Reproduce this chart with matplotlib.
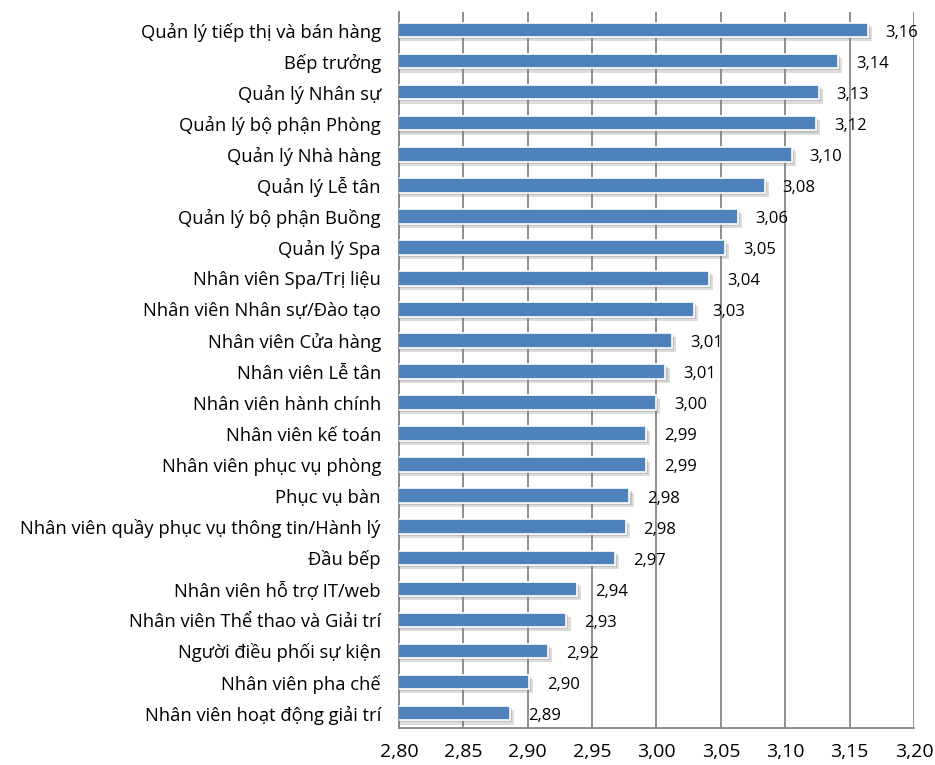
import matplotlib
matplotlib.use('Agg')
import matplotlib.pyplot as plt
import matplotlib.patheffects as pe
import numpy as np

plt.rcParams['font.family'] = ['Open Sans', 'DejaVu Sans']

categories = ['Quản lý tiếp thị và bán hàng', 'Bếp trưởng', 'Quản lý Nhân sự',
              'Quản lý bộ phận Phòng', 'Quản lý Nhà hàng', 'Quản lý Lễ tân',
              'Quản lý bộ phận Buồng', 'Quản lý Spa', 'Nhân viên Spa/Trị liệu',
              'Nhân viên Nhân sự/Đào tạo', 'Nhân viên Cửa hàng', 'Nhân viên Lễ tân',
              'Nhân viên hành chính', 'Nhân viên kế toán', 'Nhân viên phục vụ phòng',
              'Phục vụ bàn', 'Nhân viên quầy phục vụ thông tin/Hành lý', 'Đầu bếp',
              'Nhân viên hỗ trợ IT/web', 'Nhân viên Thể thao và Giải trí',
              'Người điều phối sự kiện', 'Nhân viên pha chế', 'Nhân viên hoạt động giải trí']
values = [3.164, 3.141, 3.126, 3.124, 3.105, 3.084, 3.063, 3.053, 3.041, 3.029,
          3.012, 3.007, 2.9996, 2.992, 2.992, 2.979, 2.976, 2.968, 2.938, 2.930,
          2.916, 2.901, 2.886]
xticks = [2.80, 2.85, 2.90, 2.95, 3.00, 3.05, 3.10, 3.15, 3.20]

fig = plt.figure(figsize=(9.35, 7.65), dpi=100)
ax = fig.add_axes([0.4267, 0.0484, 0.5508, 0.9359])

y = np.arange(len(categories))
bars = ax.barh(y, values, left=0, height=0.47, color='#4f81bd', edgecolor='white',
               linewidth=1.2, zorder=3)
for b in bars:
    b.set_path_effects([pe.SimplePatchShadow(offset=(3, -3), shadow_rgbFace='#777777', alpha=0.25),
                        pe.SimplePatchShadow(offset=(1.5, -1.5), shadow_rgbFace='#777777', alpha=0.25),
                        pe.Normal()])

for yi, v in zip(y, values):
    ax.annotate(f"{v:.2f}".replace('.', ','), xy=(v, yi), xytext=(13, -2),
                textcoords='offset points', va='center', ha='left',
                fontsize=12, color='#000000', zorder=4)

ax.set_xlim(2.80, 3.20)
ax.set_ylim(22.48, -0.58)
ax.set_xticks(xticks)
ax.set_xticklabels([f"{t:.2f}".replace('.', ',') for t in xticks], fontsize=14)
ax.set_yticks(y)
ax.set_yticklabels(categories, fontsize=13.2)
ax.tick_params(axis='x', length=0, pad=11)
ax.tick_params(axis='y', length=0, pad=13)
ax.grid(axis='x', color='#868686', linewidth=1.3, zorder=0)
ax.set_axisbelow(True)
for s in ['top', 'right']:
    ax.spines[s].set_visible(False)
for s in ['left', 'bottom']:
    ax.spines[s].set_color('#868686')
    ax.spines[s].set_linewidth(1.3)

fig.savefig('out.png', dpi=100, facecolor='white')
